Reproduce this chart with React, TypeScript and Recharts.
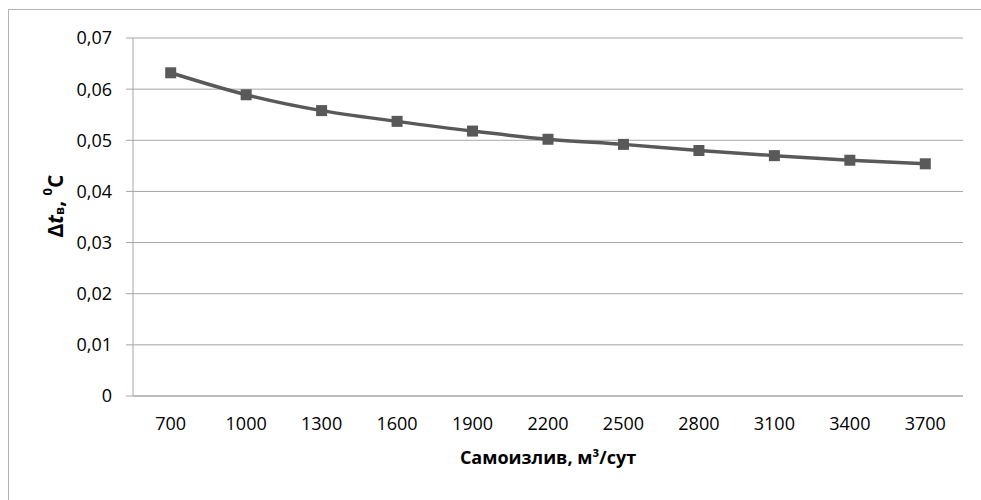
import React from 'react';
import {
  LineChart, Line, XAxis, YAxis, CartesianGrid,
} from 'recharts';

// Самоизлив, м3/сут
const flowRates = ['700', '1000', '1300', '1600', '1900', '2200', '2500', '2800', '3100', '3400', '3700'];
// Δt_в, °C
const deltaT = [0.0632, 0.0589, 0.0558, 0.0537, 0.0518, 0.0502, 0.0492, 0.0480, 0.0470, 0.0461, 0.0454];
const yTicks = [0, 0.01, 0.02, 0.03, 0.04, 0.05, 0.06, 0.07];

const data = flowRates.map((q, i) => ({ q, dt: deltaT[i] }));

const FONT = '"Open Sans", Calibri, sans-serif';
const GRID = '#a6a6a6';
const LINE = '#595959';

const fmtY = (v: number) => (v === 0 ? '0' : v.toFixed(2).replace('.', ','));

function SquareDot({ cx, cy }: any) {
  if (cx == null || cy == null) return null;
  return <rect x={cx - 5.5} y={cy - 5.5} width={11} height={11} fill={LINE} />;
}

function YTitle() {
  return (
    <text
      transform="translate(55,206) rotate(-90)"
      textAnchor="middle"
      dominantBaseline="central"
      fontFamily={FONT}
      fontWeight={700}
      fontSize={21}
      fill="#000"
    >
      <tspan>Δ</tspan>
      <tspan fontStyle="italic">t</tspan>
      <tspan fontSize={13} dy={4}>в</tspan>
      <tspan dy={-4}>, </tspan>
      <tspan fontSize={13} dy={-8}>0</tspan>
      <tspan dy={8}>C</tspan>
    </text>
  );
}

export default function App() {
  return (
    <div style={{ position: 'absolute', left: 0, top: 0, width: 981, height: 500, overflow: 'hidden', background: '#fff' }}>
      <div style={{ position: 'absolute', left: 8, top: 9, width: 1000, height: 520, border: '1px solid #b4b4b4' }} />
      <LineChart
        width={981}
        height={500}
        data={data}
        margin={{ top: 38, right: 18, bottom: 0, left: 0 }}
        style={{ position: 'absolute', left: 0, top: 0 }}
      >
        <CartesianGrid stroke={GRID} vertical={false} strokeWidth={1} />
        <XAxis
          dataKey="q"
          type="category"
          height={104}
          padding={{ left: 37.7, right: 37.7 }}
          axisLine={{ stroke: GRID }}
          tickLine={false}
          tickSize={0}
          tickMargin={21}
          interval={0}
          tick={{ fontFamily: FONT, fontSize: 18, fill: '#000' }}
          label={{
            value: 'Самоизлив, м³/сут',
            position: 'insideBottom',
            offset: 36,
            style: { fontFamily: FONT, fontSize: 18, fontWeight: 700, fill: '#000' },
          }}
        />
        <YAxis
          width={133}
          domain={[0, 0.07]}
          ticks={yTicks}
          tickFormatter={fmtY}
          axisLine={{ stroke: GRID }}
          tickLine={{ stroke: GRID }}
          tickSize={7}
          tickMargin={14}
          tick={{ fontFamily: FONT, fontSize: 18, fill: '#000' }}
          label={{ content: <YTitle /> }}
        />
        <Line
          dataKey="dt"
          type="monotone"
          stroke={LINE}
          strokeWidth={3.5}
          dot={<SquareDot />}
          activeDot={false}
          isAnimationActive={false}
        />
      </LineChart>
    </div>
  );
}
